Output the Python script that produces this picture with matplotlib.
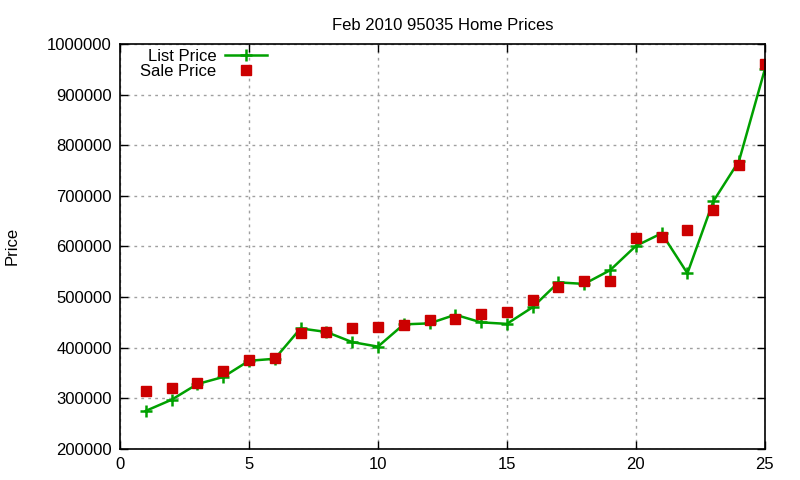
import numpy as np
import matplotlib.pyplot as plt

plt.rcParams['font.family'] = ['Liberation Sans', 'DejaVu Sans']

# data
x = list(range(1, 26))
list_price = [275000, 297000, 328000, 342000, 374000, 378000, 438000, 431000, 411000, 402000,
              446000, 448000, 465000, 450000, 447000, 480000, 529000, 526000, 553000, 601000,
              626000, 547000, 689000, 769000, 950000]
sale_price = [314000, 320000, 330000, 354000, 375000, 380000, 428000, 430000, 438000, 440000,
              444000, 454000, 456000, 466000, 470000, 495000, 519000, 531000, 531000, 616000,
              619000, 632000, 673000, 762000, 961000]

fig = plt.figure(figsize=(8, 4.8), dpi=100)
ax = fig.add_axes([0.15, 0.065, 0.806, 0.843])

ax.plot(x, list_price, '-', color='#00a000', lw=1.8, marker='+', ms=8, mew=1.8, label='List Price')
ax.plot(x, sale_price, 's', color='#cc0000', ms=7.5, mec='#cc0000', label='Sale Price')

ax.set_xlim(0, 25)
ax.set_ylim(200000, 1000000)
ax.set_xticks(np.arange(0, 26, 5))
ax.set_yticks(np.arange(200000, 1000001, 100000))
ax.ticklabel_format(style='plain', axis='y')
ax.tick_params(direction='in', top=True, right=True, length=6, width=1, labelsize=12, pad=6)
ax.grid(True, color='#a0a0a0', linestyle=(0, (2, 3)), linewidth=1)
for s in ax.spines.values():
    s.set_linewidth(1.2)

ax.set_title('Feb 2010 95035 Home Prices', fontsize=12, pad=10)
fig.text(0.006, 0.487, 'Price', rotation=90, fontsize=12, va='center', ha='left')

leg = ax.legend(loc='upper left', bbox_to_anchor=(0.024, 1.0), frameon=False, markerfirst=False,
                fontsize=12, handlelength=2.5, borderpad=0.3, labelspacing=0.0, handletextpad=0.5,
                borderaxespad=0.0, bbox_transform=ax.transAxes)
leg.set_alignment('right')
for t in leg.get_texts():
    t.set_ha('right')

fig.savefig('out.png', dpi=100)
